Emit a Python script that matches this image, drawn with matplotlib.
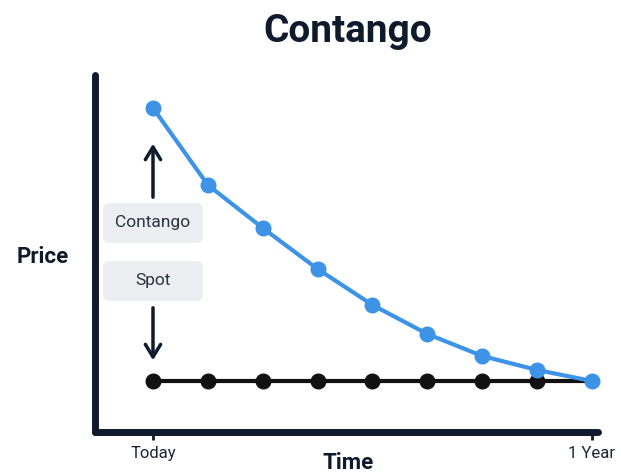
import matplotlib
matplotlib.use("Agg")
import matplotlib.pyplot as plt
from matplotlib.patches import FancyBboxPatch

# ---- data ----
steps = list(range(9))
futures = [127.3, 119.6, 115.3, 111.2, 107.6, 104.7, 102.5, 101.1, 100.0]
spot = [100.0] * 9
tick_pos = [0, 8]
tick_labels = ["Today", "1 Year"]

C_BLUE = "#3d93e6"
C_DARK = "#0f1a2b"
C_BOX = "#eceef1"

plt.rcParams["font.family"] = ["Roboto", "DejaVu Sans"]

fig = plt.figure(figsize=(6.21, 4.73), dpi=100)
ax = fig.add_axes([95 / 621, 41 / 473, 503 / 621, 357 / 473])
ax.set_xlim(-1.057, 8.11)
ax.set_ylim(94.9, 130.6)

# spot line (black dots on all but the last step)
ax.plot(steps, spot, color="#111111", linewidth=3, zorder=2, clip_on=False)
ax.plot(steps[:-1], spot[:-1], "o", color="#111111", markersize=10.5,
        zorder=3, clip_on=False)
# futures curve
ax.plot(steps, futures, color=C_BLUE, linewidth=3, marker="o",
        markersize=10.5, zorder=4, clip_on=False)

# annotation boxes
for label, yc in [("Contango", 115.8), ("Spot", 110.0)]:
    box = FancyBboxPatch((-0.91, yc - 2.0), 1.82, 4.0,
                         boxstyle="round,pad=0,rounding_size=0.11",
                         mutation_aspect=5.49, facecolor=C_BOX,
                         edgecolor="none", zorder=1)
    ax.add_patch(box)
    ax.text(0, yc, label, ha="center", va="center", fontsize=12.5,
            color="#2a3342", zorder=2)

arrow = dict(arrowstyle="->,head_length=0.9,head_width=0.55",
             color=C_DARK, lw=2.5)
ax.annotate("", xy=(0, 124.0), xytext=(0, 118.1), arrowprops=arrow)
ax.annotate("", xy=(0, 101.8), xytext=(0, 107.6), arrowprops=arrow)

# axes styling
for s in ["top", "right"]:
    ax.spines[s].set_visible(False)
for s in ["left", "bottom"]:
    ax.spines[s].set_linewidth(5)
    ax.spines[s].set_color(C_DARK)
    ax.spines[s].set_capstyle("round")
ax.set_yticks([])
ax.set_xticks(tick_pos)
ax.set_xticklabels(tick_labels, fontsize=12, color="#1b2533")
ax.tick_params(axis="x", length=6, width=2, color=C_DARK, pad=4)

fig.text(348 / 621, 1 - 32 / 473, "Contango", ha="center", va="center",
         fontsize=28, fontweight="bold", color=C_DARK)
fig.text(348 / 621, 1 - 463 / 473, "Time", ha="center", va="center",
         fontsize=16, fontweight="bold", color=C_DARK)
fig.text(43 / 621, 1 - 257 / 473, "Price", ha="center", va="center",
         fontsize=16, fontweight="bold", color=C_DARK)

fig.savefig("out.png", dpi=100, facecolor="white")
